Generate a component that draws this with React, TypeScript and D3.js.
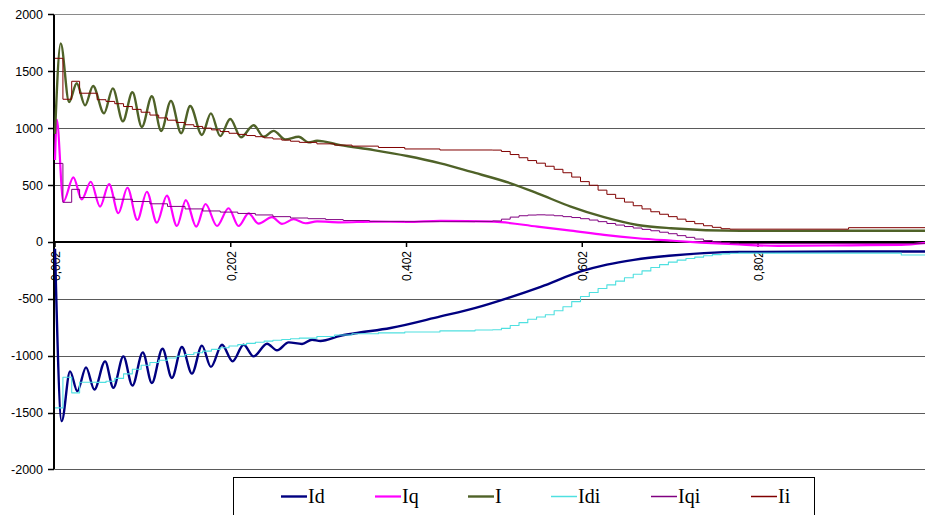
import React from "react";
import * as d3 from "d3";

// Time axis labels (category axis, comma decimal)
const xTickValues = [0.002, 0.202, 0.402, 0.602, 0.802];
const xTickLabels = ["0,002", "0,202", "0,402", "0,602", "0,802"];
const yTickValues = [2000, 1500, 1000, 500, 0, -500, -1000, -1500, -2000];

type Pt = [number, number];

// Measured currents: [time s, value A]
const idSeries: Pt[] = [
  [0.002, -60], [0.0096, -1576], [0.0191, -1138], [0.0274, -1313], [0.0373, -1103],
  [0.0468, -1298], [0.059, -1050], [0.0684, -1283], [0.0798, -1006], [0.0901, -1263],
  [0.1019, -971], [0.1122, -1240], [0.1243, -939], [0.135, -1196], [0.1464, -924],
  [0.1578, -1158], [0.1692, -912], [0.1794, -1099], [0.192, -904], [0.2041, -1050],
  [0.2166, -904], [0.228, -1006], [0.2433, -895], [0.2546, -953], [0.2679, -883],
  [0.2831, -897], [0.2945, -860], [0.304, -871], [0.3268, -825], [0.3458, -801],
  [0.3838, -757], [0.4407, -655], [0.4806, -580], [0.5171, -494], [0.5547, -395],
  [0.6003, -260], [0.63, -200], [0.6607, -158], [0.7006, -122], [0.7405, -99],
  [0.7803, -88], [0.908, -85], [0.992, -85],
];

const iqSeries: Pt[] = [
  [0.002, 720], [0.004, 1076], [0.0115, 354], [0.0229, 567], [0.0324, 374],
  [0.0427, 529], [0.0533, 310], [0.0635, 509], [0.0741, 252], [0.0844, 476],
  [0.0958, 193], [0.1065, 441], [0.1179, 169], [0.1293, 406], [0.1407, 140],
  [0.1509, 368], [0.1627, 134], [0.1733, 333], [0.1863, 140], [0.1995, 296],
  [0.2109, 140], [0.2223, 250], [0.2337, 160], [0.2489, 217], [0.2603, 158],
  [0.2736, 199], [0.2869, 164], [0.3002, 180], [0.3268, 172], [0.3644, 178],
  [0.4028, 176], [0.4407, 185], [0.5015, 178], [0.551, 134], [0.5889, 99],
  [0.6268, 61], [0.6649, 32], [0.7028, 11], [0.737, -6], [0.7746, -20],
  [0.8244, -35], [0.908, -30], [0.965, -26], [0.992, -8],
];

const iSeries: Pt[] = [
  [0.002, 950], [0.0085, 1745], [0.018, 1230], [0.0267, 1395], [0.0362, 1200],
  [0.0453, 1370], [0.0578, 1130], [0.0678, 1350], [0.0792, 1060], [0.0901, 1315],
  [0.1008, 1010], [0.1122, 1280], [0.1228, 975], [0.1339, 1240], [0.1456, 955],
  [0.1558, 1195], [0.1692, 940], [0.1794, 1130], [0.19, 930], [0.2014, 1080],
  [0.2136, 920], [0.228, 1026], [0.2394, 924], [0.2508, 976], [0.2641, 901],
  [0.2793, 924], [0.2907, 875], [0.3002, 889], [0.3268, 851], [0.3647, 807],
  [0.4028, 755], [0.4407, 690], [0.4749, 617], [0.5205, 515], [0.551, 427],
  [0.5889, 310], [0.6268, 217], [0.6649, 149], [0.7028, 120], [0.7826, 97],
  [0.908, 98], [0.992, 98],
];

// Sampled (stepped) references
const idiSeries: Pt[] = [
  [0.002, -1459], [0.011, -1190], [0.021, -1327], [0.03, -1234], [0.05, -1235],
  [0.06, -1225], [0.07, -1200], [0.08, -1160], [0.09, -1120], [0.1, -1085],
  [0.11, -1060], [0.12, -1040], [0.13, -1020], [0.14, -1005], [0.15, -990],
  [0.16, -975], [0.17, -960], [0.18, -945], [0.19, -930], [0.2, -915],
  [0.21, -903], [0.22, -892], [0.23, -882], [0.24, -872], [0.25, -865],
  [0.26, -858], [0.27, -852], [0.28, -846], [0.3, -832], [0.32, -818],
  [0.34, -808], [0.37, -800], [0.4, -792], [0.44, -782], [0.48, -775],
  [0.5, -772], [0.51, -760], [0.52, -735], [0.53, -710], [0.54, -680],
  [0.55, -660], [0.56, -640], [0.57, -605], [0.58, -570], [0.59, -525],
  [0.6, -480], [0.61, -445], [0.62, -410], [0.63, -378], [0.64, -345],
  [0.65, -315], [0.66, -285], [0.67, -255], [0.68, -225], [0.69, -200],
  [0.7, -178], [0.71, -160], [0.72, -146], [0.73, -134], [0.74, -122],
  [0.75, -112], [0.76, -105], [0.77, -100], [0.78, -99], [0.965, -115],
  [0.992, -115],
];

const iqiSeries: Pt[] = [
  [0.002, 690], [0.011, 348], [0.021, 462], [0.03, 390], [0.05, 392],
  [0.07, 375], [0.09, 355], [0.11, 335], [0.13, 312], [0.15, 290],
  [0.17, 272], [0.19, 262], [0.21, 250], [0.23, 237], [0.25, 222],
  [0.27, 210], [0.29, 204], [0.31, 196], [0.33, 188], [0.36, 180],
  [0.4, 178], [0.44, 178], [0.48, 180], [0.5, 184], [0.51, 200],
  [0.52, 218], [0.53, 230], [0.54, 236], [0.55, 238], [0.56, 236],
  [0.57, 230], [0.58, 222], [0.59, 214], [0.6, 204], [0.61, 192],
  [0.62, 178], [0.63, 162], [0.64, 148], [0.65, 135], [0.66, 122],
  [0.67, 110], [0.68, 98], [0.69, 85], [0.7, 72], [0.71, 55],
  [0.72, 40], [0.73, 25], [0.74, 12], [0.75, 2], [0.76, -6],
  [0.77, -12], [0.78, -15], [0.992, -15],
];

const iiSeries: Pt[] = [
  [0.002, 1614], [0.011, 1254], [0.021, 1412], [0.03, 1307], [0.05, 1250],
  [0.06, 1235], [0.07, 1215], [0.08, 1190], [0.09, 1165], [0.1, 1140],
  [0.11, 1115], [0.12, 1090], [0.13, 1070], [0.14, 1050], [0.15, 1030],
  [0.16, 1015], [0.17, 1000], [0.18, 985], [0.19, 970], [0.2, 955],
  [0.21, 945], [0.22, 935], [0.23, 925], [0.24, 915], [0.25, 905],
  [0.26, 895], [0.27, 885], [0.28, 875], [0.3, 862], [0.32, 851],
  [0.34, 842], [0.37, 830], [0.4, 817], [0.44, 808], [0.5, 807],
  [0.51, 795], [0.52, 768], [0.53, 740], [0.54, 715], [0.55, 692],
  [0.56, 665], [0.57, 638], [0.58, 608], [0.59, 570], [0.6, 530],
  [0.61, 498], [0.62, 455], [0.63, 418], [0.64, 383], [0.65, 350],
  [0.66, 318], [0.67, 290], [0.68, 265], [0.69, 243], [0.7, 222],
  [0.71, 200], [0.72, 180], [0.73, 160], [0.74, 142], [0.75, 128],
  [0.76, 116], [0.77, 112], [0.905, 125], [0.992, 125],
];

const seriesNames = ["Id", "Iq", "I", "Idi", "Iqi", "Ii"];

const W = 925;
const H = 515;
const plotLeft = 55;
const plotRight = 925;
const plotTop = 14.4;
const plotBottom = 469.4;

const seriesStyle = [
  { data: idSeries, color: "#000080", width: 2.4, step: false },
  { data: iqSeries, color: "#ff00ff", width: 2.2, step: false },
  { data: iSeries, color: "#4f6228", width: 2.4, step: false },
  { data: idiSeries, color: "#4fe0e0", width: 1.1, step: true },
  { data: iqiSeries, color: "#800080", width: 1, step: true },
  { data: iiSeries, color: "#800000", width: 1, step: true },
];

// legend entry left edges (line start)
const legendX = [281, 375, 468, 551, 651, 751];

export default function App() {
  const x = d3.scaleLinear().domain([0.002, 0.992]).range([plotLeft, plotRight]);
  const y = d3.scaleLinear().domain([-2000, 2000]).range([plotBottom, plotTop]);

  const smooth = d3
    .line<Pt>()
    .x((d) => x(d[0]))
    .y((d) => y(d[1]))
    .curve(d3.curveMonotoneX);
  const stepped = d3
    .line<Pt>()
    .x((d) => x(d[0]))
    .y((d) => y(d[1]))
    .curve(d3.curveStepAfter);

  const axisFont = "'Liberation Sans', Arial, sans-serif";
  const y0 = Math.round(y(0));

  return (
    <svg
      width={W}
      height={H}
      style={{ position: "absolute", left: 0, top: 0, background: "#fff" }}
    >
      <defs>
        <clipPath id="plot">
          <rect x={plotLeft - 2} y={0} width={plotRight - plotLeft + 2} height={H} />
        </clipPath>
      </defs>

      {/* horizontal gridlines */}
      {yTickValues.map((v) => (
        <line
          key={"g" + v}
          x1={plotLeft}
          x2={plotRight}
          y1={Math.round(y(v)) + 0.5}
          y2={Math.round(y(v)) + 0.5}
          stroke={v === 2000 ? "#8a8a8a" : "#5a5a5a"}
          strokeWidth={1}
        />
      ))}

      {/* y axis */}
      <line x1={54} x2={54} y1={y(2000)} y2={y(-2000)} stroke="#000" strokeWidth={2} />
      {yTickValues.map((v) => (
        <g key={"yt" + v}>
          <line x1={48} x2={54} y1={Math.round(y(v)) + 0.5} y2={Math.round(y(v)) + 0.5} stroke="#000" strokeWidth={1.5} />
          <text
            x={43}
            y={y(v)}
            dy="0.36em"
            textAnchor="end"
            fontFamily={axisFont}
            fontSize={12.5}
            fill="#000"
          >
            {v}
          </text>
        </g>
      ))}

      {/* x axis at zero */}
      <line x1={53} x2={plotRight} y1={y0} y2={y0} stroke="#000" strokeWidth={2} />
      {xTickValues.map((t, i) => (
        <g key={"xt" + t}>
          <line x1={x(t)} x2={x(t)} y1={y0} y2={y0 + 5} stroke="#000" strokeWidth={1.5} />
          <text
            transform={`translate(${x(t) + 0.5},${y0 + 9}) rotate(-90)`}
            dy="0.36em"
            textAnchor="end"
            fontFamily={axisFont}
            fontSize={12}
            fill="#000"
          >
            {xTickLabels[i]}
          </text>
        </g>
      ))}

      {/* series */}
      <g clipPath="url(#plot)" fill="none" strokeLinejoin="round">
        {seriesStyle.map((s, i) => (
          <path
            key={seriesNames[i]}
            d={(s.step ? stepped : smooth)(s.data) || ""}
            stroke={s.color}
            strokeWidth={s.width}
          />
        ))}
      </g>

      {/* legend */}
      <rect x={233.5} y={477.5} width={581} height={40} fill="#fff" stroke="#000" strokeWidth={1} />
      {seriesNames.map((name, i) => (
        <g key={"lg" + name}>
          <line
            x1={legendX[i]}
            x2={legendX[i] + 26}
            y1={496.5}
            y2={496.5}
            stroke={seriesStyle[i].color}
            strokeWidth={Math.max(1.5, seriesStyle[i].width)}
          />
          <text
            x={legendX[i] + 27}
            y={503}
            fontFamily="'Liberation Serif', 'Times New Roman', serif"
            fontSize={20}
            fill="#000"
          >
            {name}
          </text>
        </g>
      ))}
    </svg>
  );
}
